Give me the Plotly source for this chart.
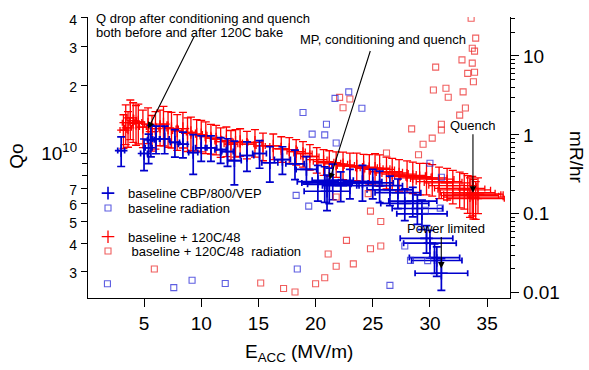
import plotly.graph_objects as go

FONT = "Liberation Sans, Arial, sans-serif"

# ---------------- data ----------------
# baseline + 120C/48 : Eacc (MV/m), Qo (x1e10), horizontal err (MV/m), vertical err (%)
red_E = [3.2, 3.4, 3.6, 3.8, 4.05, 4.3, 4.5, 4.9, 5.35, 5.7, 6.0, 6.4, 6.7, 7.1, 7.4, 7.9,
         8.4, 8.8, 9.1, 9.6, 10.0, 10.4, 10.85, 11.3, 11.7, 12.2, 12.6, 13.0, 13.4, 14.0,
         14.7, 15.4, 16.3, 17.0, 17.7, 18.3, 18.9, 19.5, 20.1, 20.7, 21.2, 21.8, 22.4, 23.0,
         23.6, 24.2, 24.7, 25.2, 25.6, 26.2, 26.7, 27.3, 28.0, 28.5, 29.1, 29.7, 30.2, 30.8,
         31.5, 32.0, 32.6, 33.0, 33.3, 33.5, 33.7, 33.8, 34.0, 34.2]
red_Q = [1.27, 1.37, 1.30, 1.44, 1.40, 1.36, 1.38, 1.31, 1.35, 1.25, 1.29, 1.32, 1.35, 1.30, 1.29, 1.26,
         1.29, 1.23, 1.24, 1.22, 1.21, 1.19, 1.17, 1.16, 1.13, 1.14, 1.10, 1.12, 1.13, 1.10,
         1.12, 1.08, 1.08, 1.05, 1.04, 1.02, 1.00, 0.97, 0.94, 0.92, 0.91, 0.90, 0.89, 0.88,
         0.88, 0.87, 0.86, 0.86, 0.85, 0.83, 0.82, 0.81, 0.80, 0.79, 0.78, 0.78, 0.77, 0.75,
         0.74, 0.72, 0.70, 0.69, 0.67, 0.65, 0.66, 0.64, 0.63, 0.66]
red_dE = [0.3, 0.3, 0.3, 0.3, 0.3, 0.3, 0.3, 0.3, 0.3, 0.3, 0.3, 0.3, 0.3, 0.3, 0.4, 0.4,
          0.4, 0.4, 0.4, 0.5, 0.5, 0.5, 0.5, 0.5, 0.5, 0.5, 0.6, 0.6, 0.6, 0.6,
          0.6, 0.6, 0.7, 0.7, 0.7, 0.8, 0.8, 0.8, 0.9, 0.9, 1.0, 1.0, 1.0, 1.1,
          1.1, 1.2, 1.2, 1.3, 1.3, 1.4, 1.4, 1.5, 1.6, 1.6, 1.7, 1.8, 1.9, 2.0,
          2.0, 2.1, 2.2, 2.3, 2.4, 2.5, 2.5, 2.6, 2.5, 2.2]
red_dQ = [17, 20, 18, 20, 20, 20, 20, 19, 18, 18, 19, 18, 20, 18, 18, 18,
          18, 17, 17, 16, 16, 16, 15, 15, 15, 15, 15, 14, 14, 14,
          14, 14, 13, 13, 13, 13, 13, 13, 13, 13, 13, 13, 14, 14,
          14, 14, 15, 16, 16, 16, 16, 16, 16, 16, 16, 16, 16, 16,
          16, 17, 18, 18, 19, 20, 20, 20, 19, 18]

# baseline CBP/800/VEP
blue_E = [3.0, 5.0, 5.4, 5.6, 6.05, 6.8, 7.7, 8.4, 9.3, 10.0, 10.85, 11.7, 12.3, 12.9,
          14.0, 15.1, 16.0, 17.1, 18.2, 19.2, 20.2, 20.8, 21.0, 21.2, 21.5, 22.2, 23.0,
          24.1, 25.0, 25.6, 26.5, 27.2, 27.8, 28.5, 28.9, 29.3, 29.7, 30.0, 30.4, 30.6, 31.0]
blue_Q = [1.03, 1.00, 1.06, 1.15, 1.16, 1.16, 1.12, 1.10, 1.01, 1.06, 1.06, 1.04, 1.02, 0.93,
          0.98, 1.00, 0.91, 0.94, 0.90, 0.85, 0.75, 0.74, 0.68, 0.73, 0.76, 0.72, 0.74,
          0.75, 0.74, 0.72, 0.69, 0.67, 0.60, 0.615, 0.57, 0.54, 0.42, 0.40, 0.345, 0.335, 0.294]
blue_dE = [0.3, 0.3, 0.3, 0.3, 0.3, 0.4, 0.4, 0.4, 0.4, 0.5, 0.5, 0.5, 0.5, 0.6,
           0.6, 0.6, 0.7, 0.7, 0.8, 0.9, 1.8, 2.0, 2.0, 1.9, 1.8, 1.6, 1.6,
           1.7, 1.8, 2.0, 2.0, 2.0, 2.1, 2.1, 2.2, 2.2, 2.3, 2.3, 2.2, 2.2, 2.3]
blue_dQ = [15, 16, 15, 16, 14, 14, 14, 13, 20, 13, 13, 13, 14, 22,
           15, 14, 18, 14, 15, 14, 18, 18, 18, 18, 18, 15, 15,
           18, 15, 16, 15, 15, 16, 15, 15, 15, 14, 14, 15, 15, 16]

# radiation (mR/hr)
red_rad_E = [33.6, 34.0, 33.7, 33.9, 32.8, 33.7, 30.5, 33.3, 33.9, 33.8, 30.3, 31.4, 31.6,
             32.9, 33.1, 32.6, 31.0, 31.0, 28.4, 30.2, 29.4, 29.0, 26.2, 24.6, 24.8, 25.7,
             24.8, 25.7, 22.7, 21.1, 21.8, 23.3, 20.8, 20.0, 18.2, 17.2, 15.2, 5.9, 22.1,
             23.0, 22.4, 21.8]
red_rad_R = [30.0, 16.8, 12.5, 11.5, 8.9, 8.1, 7.2, 6.0, 6.2, 4.7, 3.7, 3.9, 3.0,
             3.5, 2.19, 1.78, 1.36, 1.15, 1.19, 0.91, 0.76, 0.56, 0.59, 0.18, 0.108, 0.080,
             0.036, 0.039, 0.046, 0.031, 0.0216, 0.0232, 0.0155, 0.0130, 0.0102, 0.0113, 0.0133,
             0.020, 2.98, 2.85, 2.2, 0.163]
blue_rad_E = [1.8, 7.6, 9.2, 12.1, 18.4, 26.5, 18.3, 19.4, 22.9, 21.7, 24.05, 18.9, 20.95,
              19.7, 20.8, 21.8, 30.0, 31.0, 30.9, 29.6, 27.8, 28.3, 29.8]
blue_rad_R = [0.013, 0.0116, 0.0144, 0.0131, 0.020, 0.0124, 0.171, 0.125, 3.5, 2.9, 2.17, 1.92,
              1.36, 1.02, 1.0, 0.79, 0.436, 0.29, 0.118, 0.111, 0.039, 0.0257, 0.0255]

RED = "rgb(255,0,0)"
BLUE = "rgb(0,0,205)"
RED_SQ = "rgba(235,40,40,0.75)"
BLUE_SQ = "rgba(40,40,215,0.75)"

red_Qv = [q * 1e10 for q in red_Q]
blue_Qv = [q * 1e10 for q in blue_Q]

fig = go.Figure()

fig.add_trace(go.Scatter(
    x=red_E, y=red_Qv, mode="markers", name="baseline + 120C/48", legend="legend3",
    marker=dict(symbol="cross-thin-open", size=9, color=RED, line=dict(color=RED, width=1.3)),
    error_x=dict(type="data", array=red_dE, color=RED, thickness=1.3, width=3),
    error_y=dict(type="data", array=[q * p / 100 for q, p in zip(red_Qv, red_dQ)],
                 color=RED, thickness=1.3, width=4),
))
fig.add_trace(go.Scatter(
    x=blue_E, y=blue_Qv, mode="markers", name="baseline CBP/800/VEP", legend="legend",
    marker=dict(symbol="cross-thin-open", size=9, color=BLUE, line=dict(color=BLUE, width=1.6)),
    error_x=dict(type="data", array=blue_dE, color=BLUE, thickness=1.7, width=3),
    error_y=dict(type="data", array=[q * p / 100 for q, p in zip(blue_Qv, blue_dQ)],
                 color=BLUE, thickness=1.7, width=4),
))
fig.add_trace(go.Scatter(
    x=red_rad_E, y=red_rad_R, yaxis="y2", mode="markers",
    name="\u00a0baseline + 120C/48 \u00a0radiation", legend="legend4",
    marker=dict(symbol="square-open", size=6, color=RED_SQ, line=dict(color=RED_SQ, width=1.1)),
))
fig.add_trace(go.Scatter(
    x=blue_rad_E, y=blue_rad_R, yaxis="y2", mode="markers",
    name="baseline radiation", legend="legend2",
    marker=dict(symbol="square-open", size=6, color=BLUE_SQ, line=dict(color=BLUE_SQ, width=1.1)),
))

small = '<span style="font-size:14px">%s</span>'
left_vals = [3e9, 4e9, 5e9, 6e9, 7e9, 1e10, 2e10, 3e10, 4e10]
left_text = [small % "3", small % "4", small % "5", small % "6", small % "7",
             "10<sup>10</sup>", small % "2", small % "3", small % "4"]
right_minor = [m * d for d in (0.01, 0.1, 1, 10) for m in range(2, 10) if m * d <= 31]


def leg(ypos):
    return dict(x=0.0, y=ypos, xanchor="left", yanchor="middle",
                font=dict(size=13, family=FONT), bgcolor="rgba(0,0,0,0)", itemwidth=30)


fig.update_layout(
    width=589, height=370,
    margin=dict(l=88, r=79, t=14, b=72, pad=0),
    paper_bgcolor="white", plot_bgcolor="white",
    font=dict(family=FONT, size=19, color="black"),
    showlegend=True,
    legend=leg(0.373), legend2=leg(0.320), legend3=leg(0.218), legend4=leg(0.167),
    xaxis=dict(range=[0.1, 37], showgrid=False, zeroline=False,
               showline=True, linecolor="black", linewidth=1.2, mirror=False,
               ticks="outside", ticklen=8, tickwidth=1.2, tickcolor="black",
               tickvals=[5, 10, 15, 20, 25, 30, 35], tickfont=dict(size=19)),
    yaxis=dict(type="log", range=[9.3585, 10.606], showgrid=False, zeroline=False,
               showline=True, linecolor="black", linewidth=1.2,
               ticks="outside", ticklen=6, tickwidth=1.2, tickcolor="black",
               tickvals=left_vals, ticktext=left_text, tickfont=dict(size=19),
               minor=dict(tickvals=[8e9, 9e9], ticks="outside", ticklen=5,
                          tickwidth=1.2, tickcolor="black")),
    yaxis2=dict(type="log", range=[-2.067, 1.493], overlaying="y", side="right",
                showgrid=False, zeroline=False, showline=True, linecolor="black", linewidth=1.2,
                ticks="outside", ticklen=8, tickwidth=1.2, tickcolor="black",
                tickvals=[0.01, 0.1, 1, 10], ticktext=["0.01", "0.1", "1", "10"],
                tickfont=dict(size=19),
                minor=dict(tickvals=right_minor, ticks="outside", ticklen=4,
                           tickwidth=1.2, tickcolor="black")),
)

ann = []
# axis titles
ann.append(dict(text="E<sub>ACC</sub> (MV/m)", xref="paper", yref="paper", x=0.5, y=-0.194,
                xanchor="center", yanchor="middle", showarrow=False, font=dict(size=19)))
ann.append(dict(text="Qo", xref="paper", yref="paper", x=-0.168, y=0.503, textangle=-90,
                xanchor="center", yanchor="middle", showarrow=False, font=dict(size=19)))
ann.append(dict(text="mR/hr", xref="paper", yref="paper", x=1.156, y=0.502, textangle=90,
                xanchor="center", yanchor="middle", showarrow=False, font=dict(size=19)))
# text labels
for t, x, y, xa in [
    ("Q drop after conditioning and quench", 0.015, 0.993, "left"),
    ("both before and after 120C bake", 0.015, 0.944, "left"),
    ("MP, conditioning and quench", 0.699, 0.919, "center"),
    ("Quench", 0.912, 0.613, "center"),
    ("Power limited", 0.848, 0.246, "center"),
]:
    ann.append(dict(text=t, xref="paper", yref="paper", x=x, y=y, xanchor=xa,
                    yanchor="middle", showarrow=False, font=dict(size=13)))
# arrows (head in data coords, tail offset in px)
for hx, hy, ax, ay in [(5.35, 10.11, 47, -94), (21.24, 9.8844, 41, -130),
                       (33.76, 9.8256, 0, -60), (30.99, 9.489, 0, -33)]:
    ann.append(dict(text="", x=hx, y=hy, xref="x", yref="y", showarrow=True,
                    ax=ax, ay=ay, axref="pixel", ayref="pixel",
                    arrowhead=2, arrowsize=1.2, arrowwidth=1.1, arrowcolor="black"))
fig.update_layout(annotations=ann)

fig.write_html("out.html", config={"displayModeBar": False},
               post_script="document.body.style.margin='0px';")
